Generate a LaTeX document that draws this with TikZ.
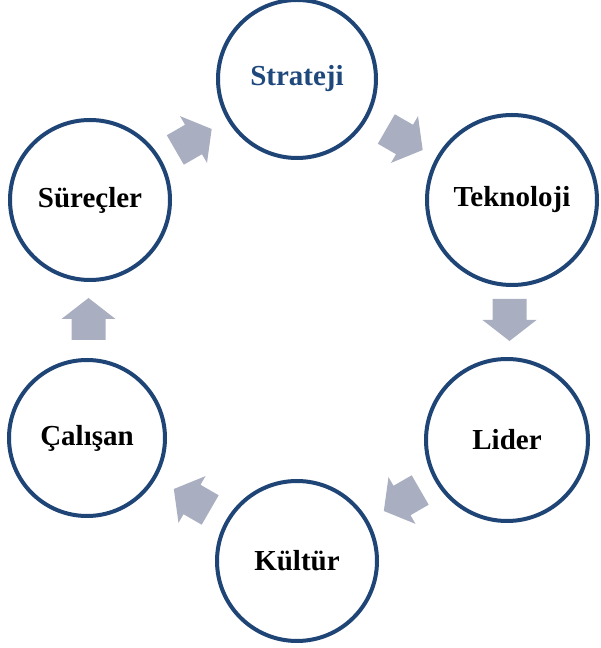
\documentclass[tikz,border=0pt]{standalone}
\usepackage{fontspec}
\setmainfont{Liberation Serif}
\usetikzlibrary{calc}
\definecolor{ringc}{HTML}{1F4577}
\definecolor{titlec}{HTML}{1F497D}
\definecolor{arrowc}{HTML}{A9AFC0}
\tikzset{
  stage/.style={circle, draw=ringc, line width=4pt, fill=white, inner sep=0pt,
    minimum size=#1, font=\fontsize{29}{29}\selectfont\bfseries, text=black},
  blockfill/.style={fill=arrowc, draw=none}
}
\newcommand\blockarrowshape{%
  (-21,-17) -- (0,-17) -- (0,-27) -- (21,0) -- (0,27) -- (0,17) -- (-21,17) -- cycle}
\begin{document}
\begin{tikzpicture}[x=1pt, y=1pt]
\useasboundingbox (0,0) rectangle (600,648);
\node[stage=158pt, text=titlec] (str) at (297,569) {Strateji};
\node[stage=170pt] (tek) at (512,448) {Teknoloji};
\node[stage=162pt] (lid) at (507,208) {Lider};
\node[stage=160pt] (kul) at (297,87) {Kültür};
\node[stage=156pt] (cal) at (87,210) {Çalışan};
\node[stage=160pt] (sur) at (90,448) {Süreçler};
\begin{scope}[shift={($(sur)!0.5!(str)$)}, rotate=30]
  \path[blockfill] \blockarrowshape;
\end{scope}
\begin{scope}[shift={($(str)!0.5!(tek)$)}, rotate=-30]
  \path[blockfill] \blockarrowshape;
\end{scope}
\begin{scope}[shift={($(tek)!0.5!(lid)$)}, rotate=-90]
  \path[blockfill] \blockarrowshape;
\end{scope}
\begin{scope}[shift={($(lid)!0.5!(kul)$)}, rotate=-150]
  \path[blockfill] \blockarrowshape;
\end{scope}
\begin{scope}[shift={($(kul)!0.5!(cal)$)}, rotate=150]
  \path[blockfill] \blockarrowshape;
\end{scope}
\begin{scope}[shift={($(cal)!0.5!(sur)$)}, rotate=90]
  \path[blockfill] \blockarrowshape;
\end{scope}
\end{tikzpicture}
\end{document}
